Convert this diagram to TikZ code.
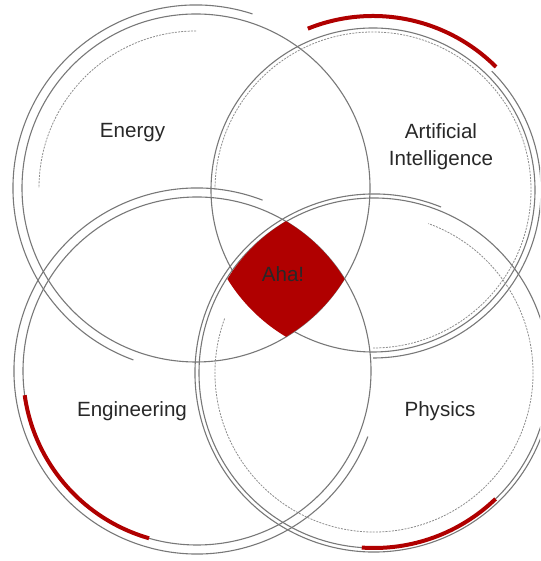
\documentclass[tikz,border=0pt]{standalone}
\usepackage{fontspec}
\setmainfont{Liberation Sans}
\usetikzlibrary{calc}

\definecolor{ahared}{RGB}{176,0,0}
\definecolor{ringgray}{RGB}{120,120,120}
\definecolor{labelgray}{RGB}{40,40,40}

\tikzset{
	mainring/.style={draw=ringgray, line width=0.55pt},
	outring/.style={draw=ringgray, line width=0.55pt},
	dotring/.style={draw=ringgray!85, line width=0.4pt, dash pattern=on 1pt off 0.6pt},
	hotarc/.style={draw=ahared, line width=2pt},
	topic/.style={text=labelgray, font=\fontsize{10.3}{13.5}\selectfont, inner sep=0pt, align=center},
}

\begin{document}
\begin{tikzpicture}[x=0.5pt, y=0.5pt]
	\useasboundingbox (0,0) rectangle (540,561);
	\clip (0,0) rectangle (540,561);

	\coordinate (energy)      at (196,373);
	\coordinate (ai)          at (373,371);
	\coordinate (engineering) at (197,190);
	\coordinate (physics)     at (374,188);

	% the four rings
	\draw[mainring] (energy)      circle[radius=174];
	\draw[mainring] (ai)          circle[radius=162];
	\draw[mainring] (engineering) circle[radius=174];
	\draw[mainring] (physics)     circle[radius=175];

	% energy
	\draw[outring] ([shift={(72:183)}]energy) arc[start angle=72, end angle=250, radius=183];
	\draw[dotring] ([shift={(90:157)}]energy) arc[start angle=90, end angle=180, radius=157];

	% artificial intelligence
	\draw[outring] ([shift={(-90:168)}]ai) arc[start angle=-90, end angle=45, radius=168];
	\draw[dotring] ([shift={(-90:158)}]ai) arc[start angle=-90, end angle=180, radius=158];
	\draw[hotarc]  ([shift={(45:174)}]ai) arc[start angle=45, end angle=112, radius=174];

	% engineering
	\draw[outring] ([shift={(69:183)}]engineering) arc[start angle=69, end angle=339, radius=183];
	\draw[hotarc]  ([shift={(188:174)}]engineering) arc[start angle=188, end angle=254, radius=174];

	% physics
	\draw[outring] ([shift={(68:179)}]physics) arc[start angle=68, end angle=380, radius=179];
	\draw[dotring] ([shift={(160:159)}]physics) arc[start angle=160, end angle=430, radius=159];
	\draw[hotarc]  ([shift={(266:175)}]physics) arc[start angle=266, end angle=314, radius=175];

	% where all four meet
	\begin{scope}
		\clip (198,372) circle[radius=172];
		\clip (374,372) circle[radius=172];
		\clip (198,192) circle[radius=172];
		\fill[ahared] (374,192) circle[radius=172];
	\end{scope}

	\node[topic, anchor=base] (energylabel)      at (132.5,423) {Energy};
	\node[topic]              (ailabel)          at (441,414.5) {Artificial\\Intelligence};
	\node[topic, anchor=base] (engineeringlabel) at (132,144)   {Engineering};
	\node[topic, anchor=base] (physicslabel)     at (440,144)   {Physics};
	\node[topic, anchor=base] (ahalabel)         at (283,279)   {Aha!};
\end{tikzpicture}
\end{document}
